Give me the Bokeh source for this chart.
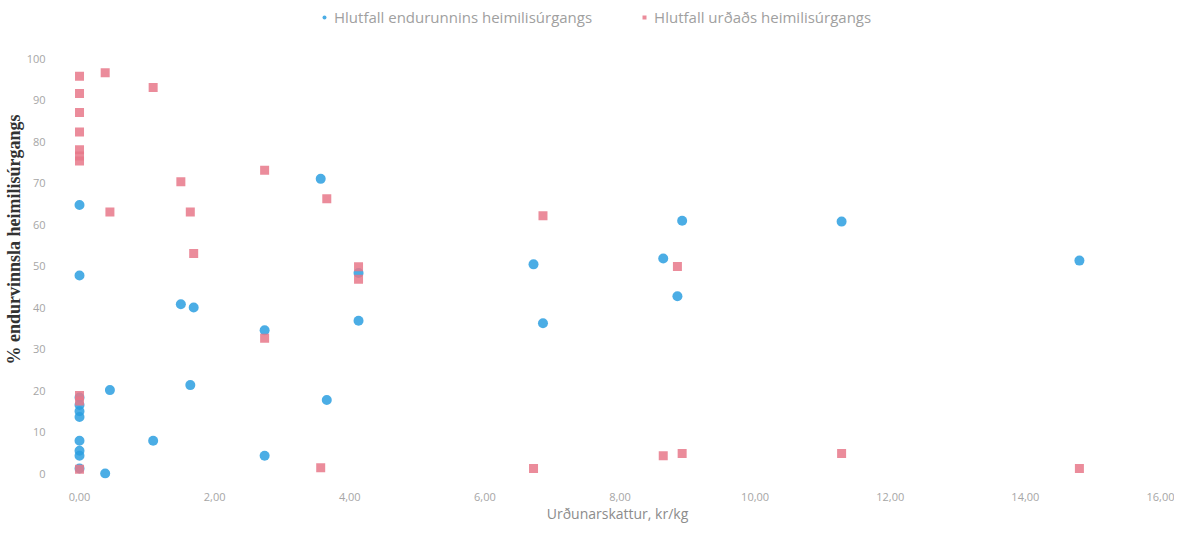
from bokeh.plotting import figure
from bokeh.models import Range1d, Legend, LegendItem, CustomJSTickFormatter, FixedTicker, ColumnDataSource
from bokeh.embed import file_html
from bokeh.resources import INLINE

# Urðunarskattur (kr/kg) per country
skattur = [0, 0, 0, 0, 0, 0, 0, 0, 0, 0,
           0.38, 0.45, 1.09, 1.50, 1.64, 1.69, 2.74, 2.74, 3.57, 3.66,
           4.13, 4.13, 6.72, 6.86, 8.64, 8.85, 8.92, 11.28, 14.80]
# % endurunnið
endurunnid = [64.7, 47.7, 18.3, 16.5, 15.0, 13.6, 7.9, 5.5, 4.3, 1.2,
              0.0, 20.1, 7.9, 40.8, 21.3, 40.0, 34.5, 4.3, 71.0, 17.7,
              48.3, 36.8, 50.4, 36.2, 51.8, 42.7, 60.9, 60.7, 51.3]
# % urðað
urdad = [95.7, 91.6, 87.0, 82.3, 78.0, 76.5, 75.3, 18.8, 17.5, 1.0,
         96.6, 63.0, 93.0, 70.3, 63.0, 53.0, 32.6, 73.1, 1.4, 66.2,
         49.8, 46.8, 1.2, 62.1, 4.3, 49.9, 4.8, 4.8, 1.2]

x_ticks = [0, 2, 4, 6, 8, 10, 12, 14, 16]
y_ticks = [0, 10, 20, 30, 40, 50, 60, 70, 80, 90, 100]

label_blue = "Hlutfall endurunnins heimilisúrgangs"
label_red = "Hlutfall urðaðs heimilisúrgangs"

src = ColumnDataSource(dict(x=skattur, b=endurunnid, r=urdad))

p = figure(width=1174, height=526, output_backend="svg", toolbar_location=None,
           x_range=Range1d(-0.163, 16.089), y_range=Range1d(-1.2, 113.98),
           min_border_left=68, min_border_right=8, min_border_top=0, min_border_bottom=48,
           background_fill_color="white", border_fill_color="white")
p.outline_line_color = None
p.grid.visible = False

rb = p.scatter("x", "b", source=src, marker="circle", size=10,
               fill_color="#2b9fe0", line_color=None, fill_alpha=0.85)
rr = p.scatter("x", "r", source=src, marker="square", size=9,
               fill_color="#e8788a", line_color=None, fill_alpha=0.85)

p.xaxis.ticker = FixedTicker(ticks=x_ticks)
p.yaxis.ticker = FixedTicker(ticks=y_ticks)
p.xaxis.formatter = CustomJSTickFormatter(code="return tick.toFixed(2).replace('.', ',');")
for ax in (p.xaxis[0], p.yaxis[0]):
    ax.axis_line_color = None
    ax.major_tick_line_color = None
    ax.minor_tick_line_color = None
    ax.major_tick_out = 0
    ax.major_tick_in = 0
    ax.minor_tick_out = 0
    ax.minor_tick_in = 0
    ax.major_label_text_color = "#a6a6a6"
    ax.major_label_text_font = "Open Sans"
    ax.major_label_text_font_size = "11px"

p.xaxis.major_label_standoff = 14
p.yaxis.major_label_standoff = 23
p.xaxis.axis_label = "Urðunarskattur, kr/kg"
p.xaxis.axis_label_text_font = "Open Sans"
p.xaxis.axis_label_text_font_style = "normal"
p.xaxis.axis_label_text_font_size = "14px"
p.xaxis.axis_label_text_color = "#8c8c8c"
p.xaxis.axis_label_standoff = 0

p.yaxis.axis_label = "% endurvinnsla heimilisúrgangs"
p.yaxis.axis_label_text_font = "Liberation Serif"
p.yaxis.axis_label_text_font_style = "bold"
p.yaxis.axis_label_text_font_size = "18px"
p.yaxis.axis_label_text_color = "#333333"
p.yaxis.axis_label_standoff = 0

legend = Legend(items=[LegendItem(label=label_blue, renderers=[rb]),
                       LegendItem(label=label_red, renderers=[rr])],
                orientation="horizontal", location=(251, 451),
                label_text_font="Open Sans", label_text_font_size="15px",
                label_text_color="#a0a0a0", glyph_width=10, glyph_height=10,
                spacing=47, label_standoff=5, border_line_color=None,
                background_fill_alpha=0, padding=2, margin=0)
p.add_layout(legend, "center")

open("out.html", "w").write(file_html(p, INLINE))
